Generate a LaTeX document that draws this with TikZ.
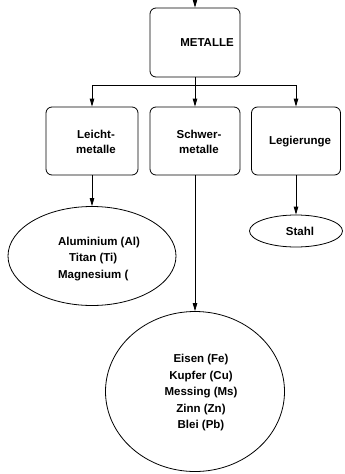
\documentclass[tikz,border=0pt]{standalone}
\usepackage{fontspec}
\setmainfont{Liberation Sans}
\usetikzlibrary{shapes.geometric,arrows.meta,calc}
\begin{document}
\begin{tikzpicture}[x=1pt,y=-1pt,
  line width=0.8pt,
  box/.style={draw, rounded corners=6pt, minimum width=90pt, minimum height=68pt, inner sep=0pt},
  oval/.style={draw, ellipse, inner sep=0pt},
  txt/.style={font=\fontsize{11.5pt}{15pt}\selectfont\bfseries, align=center, inner sep=0pt},
  arr/.style={-{Triangle[length=8pt,width=4.5pt]}}]
\useasboundingbox (0,0) rectangle (345,474);
\node[box, minimum height=69pt] (metalle) at (195,42.5) {};
\node[txt] (metalleT) at (207,43) {METALLE};
\node[box, minimum width=92pt] (leicht) at (92,141) {};
\node[txt] (leichtT) at (96,142) {Leicht-\\metalle};
\node[box] (schwer) at (195,141) {};
\node[txt] (schwerT) at (199,142) {Schwer-\\metalle};
\node[box, minimum width=89pt] (leg) at (296,141) {};
\node[txt] (legT) at (300,142) {Legierunge};
\node[oval, minimum width=168pt, minimum height=99pt] (al) at (92,256) {};
\node[txt, align=left, font=\fontsize{11.5pt}{16.5pt}\selectfont\bfseries] (alT) at (99,259) {Aluminium (Al)\\\hspace{11pt}Titan (Ti)\\Magnesium (};
\node[oval, minimum width=179pt, minimum height=160pt] (schwerK) at (195,391.5) {};
\node[txt, font=\fontsize{11.5pt}{16.5pt}\selectfont\bfseries] (schwerKT) at (201,393) {Eisen (Fe)\\Kupfer (Cu)\\Messing (Ms)\\Zinn (Zn)\\Blei (Pb)};
\node[oval, minimum width=93pt, minimum height=32pt] (stahl) at (296,231) {};
\node[txt] (stahlT) at (300,231) {Stahl};
\coordinate (top) at (195,0);
\coordinate (br) at (195,85);
\draw[arr] (top) -- (metalle.north);
\draw (metalle.south) -- (br);
\draw[arr] (br) -| (leicht.north);
\draw[arr] (br) -- (schwer.north);
\draw[arr] (br) -| (leg.north);
\draw[arr] (leicht.south) -- (al.north);
\draw[arr] (schwer.south) -- (schwerK.north);
\draw[arr] (leg.south) -- (stahl.north);
\end{tikzpicture}
\end{document}
